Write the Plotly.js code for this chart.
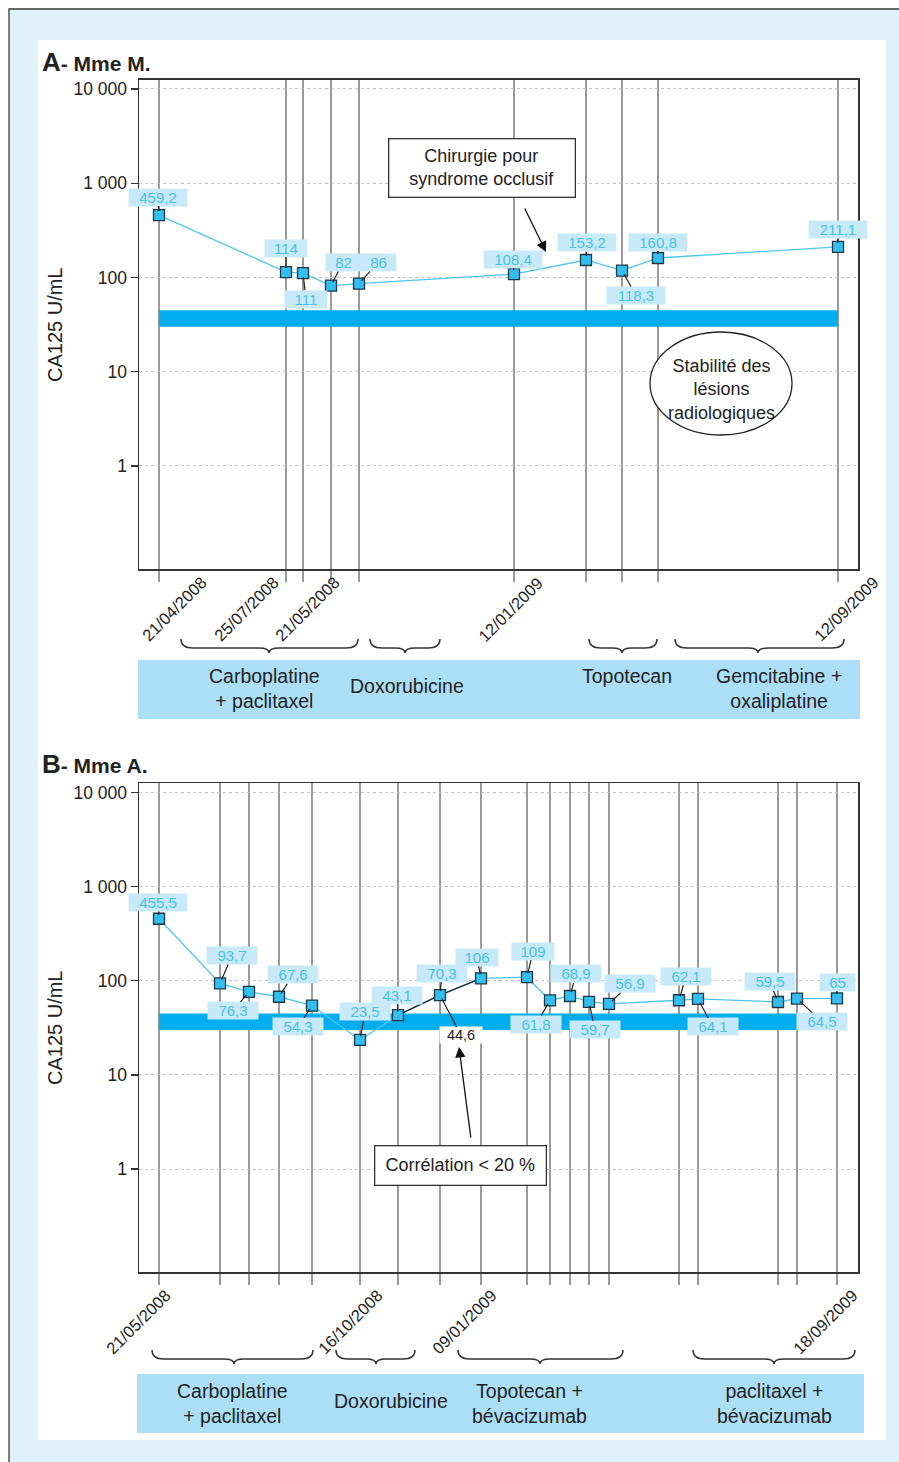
<!DOCTYPE html>
<html>
<head>
<meta charset="utf-8">
<script src="https://cdn.plot.ly/plotly-3.0.1.min.js"></script>
<style>
html,body{margin:0;padding:0;background:#fff;}
#chart{width:899px;height:1462px;}
</style>
</head>
<body>
<div id="chart"></div>
<script>
// ---------- DATA ----------
// Panel A - Mme M.
const xA = [20, 147, 164, 192, 220, 375, 447, 483, 519, 699];
const ca125A = [459.2, 114, 111, 82, 86, 108.4, 153.2, 118.3, 160.8, 211.1];
const datesA = ["21/04/2008", "25/07/2008", "21/05/2008", "12/01/2009", "12/09/2009"];
const treatmentsA = ["Carboplatine<br>+ paclitaxel", "Doxorubicine", "Topotecan", "Gemcitabine +<br>oxaliplatine"];

// Panel B - Mme A.
const xB = [20, 81, 110, 140, 173, 221, 259, 301, 342, 388, 411, 431, 450, 470, 540, 559, 639, 658, 698];
const ca125B = [455.5, 93.7, 76.3, 67.6, 54.3, 23.5, 43.1, 70.3, 106, 109, 61.8, 68.9, 59.7, 56.9, 62.1, 64.1, 59.5, 64.5, 65];
const datesB = ["21/05/2008", "16/10/2008", "09/01/2009", "18/09/2009"];
const treatmentsB = ["Carboplatine<br>+ paclitaxel", "Doxorubicine", "Topotecan +<br>bévacizumab", "paclitaxel +<br>bévacizumab"];
const correlatedIndexB = 7;
const correlatedValueB = 44.6;
const blackSegmentB = [6, 8];

// Normal range band (U/mL)
const bandLow = 30, bandHigh = 45;

const yTickVals = [1, 10, 100, 1000, 10000];
const yTickText = ["1", "10", "100", "1 000", "10 000"];

// ---------- LAYOUT HELPERS ----------
const W = 899, H = 1462;
const PX = x => x / W;
const PY = y => 1 - y / H;
const FONT = "Liberation Sans, Arial, Helvetica, sans-serif";
const CYAN_LINE = "#4cc6f0";
const MARK_FILL = "#34bdef";
const LABEL_BG = "#c8e9f8";
const LABEL_TXT = "#45c2ee";
const fmt = v => String(v).replace(".", ",");

// label offsets (pixels) from the marker
const offA = [[-1,-18],[0,-24],[3,26],[12,-23],[19,-21],[-1,-15],[1,-17],[14,25],[0,-16],[0,-17]];
const offB = [[-1,-16],[12,-28],[-16,19],[14,-22],[-14,21],[5,-28],[-1,-20],[2,-22],[-4,-21],[6,-26],[-14,24],[6,-22],[6,28],[21,-20],[7,-24],[15,28],[-8,-20],[25,23],[0,-16]];

// date label positions (pixel centres)
const datePosA = [[174,609],[246,609],[307,609],[511,609],[846,609]];
const datePosB = [[138,1322],[350,1322],[464,1322],[825,1322]];
const treatPosA = [[264,688],[407,686],[627,676],[779,688]];
const treatPosB = [[232,1403],[391,1401],[529,1403],[774,1403]];
const bracesA = [[181,358,269],[370,440,405],[589,657,622],[675,844,758]];
const bracesB = [[152,313,234],[336,415,376],[458,623,540],[693,855,774]];

function brace(x0, x1, mid, y0) {
  const d = 9, t = 14;
  const p = (x, y) => PX(x).toFixed(5) + "," + PY(y).toFixed(5);
  return "M" + p(x0, y0) + " Q" + p(x0, y0 + d) + " " + p(x0 + 12, y0 + d) +
    " L" + p(mid - 10, y0 + d) + " Q" + p(mid, y0 + d) + " " + p(mid, y0 + t) +
    " Q" + p(mid, y0 + d) + " " + p(mid + 10, y0 + d) +
    " L" + p(x1 - 12, y0 + d) + " Q" + p(x1, y0 + d) + " " + p(x1, y0);
}

// ---------- TRACES ----------
const markerStyle = {symbol: "square", size: 11, color: MARK_FILL, line: {color: "#1b3a47", width: 1.3}};
const traces = [
  {x: xA, y: ca125A, xaxis: "x", yaxis: "y", mode: "lines", line: {color: CYAN_LINE, width: 1.3}, hoverinfo: "skip"},
  {x: xA, y: ca125A, xaxis: "x", yaxis: "y", mode: "markers", marker: markerStyle, hoverinfo: "skip"},
  {x: xB, y: ca125B, xaxis: "x2", yaxis: "y2", mode: "lines", line: {color: CYAN_LINE, width: 1.3}, hoverinfo: "skip"},
  {x: xB.slice(blackSegmentB[0], blackSegmentB[1] + 1), y: ca125B.slice(blackSegmentB[0], blackSegmentB[1] + 1),
   xaxis: "x2", yaxis: "y2", mode: "lines", line: {color: "#1e2a30", width: 1.3}, hoverinfo: "skip"},
  {x: xB, y: ca125B, xaxis: "x2", yaxis: "y2", mode: "markers", marker: markerStyle, hoverinfo: "skip"}
];

// ---------- AXES ----------
function xAxis(domain, vals, anchor) {
  return {domain: domain, range: [0, 719], anchor: anchor, tickvals: vals, ticktext: vals.map(() => ""),
    showticklabels: false, ticks: "outside", ticklen: 11, tickcolor: "#999", tickwidth: 1.2,
    showgrid: true, gridcolor: "#9a9a9a", gridwidth: 1.2, zeroline: false,
    showline: true, mirror: true, linecolor: "#333", linewidth: 1.5, fixedrange: true};
}
function yAxis(domain, anchor) {
  return {domain: domain, type: "log", range: [-1.093, 4.1], anchor: anchor,
    tickvals: yTickVals, ticktext: yTickText, ticks: "outside", ticklen: 7, tickcolor: "#333", tickwidth: 1.2,
    tickfont: {family: FONT, size: 17.5, color: "#222"},
    showgrid: true, gridcolor: "#c4c4c4", griddash: "dot", gridwidth: 1, zeroline: false,
    showline: true, mirror: true, linecolor: "#333", linewidth: 1.5, fixedrange: true};
}

// ---------- SHAPES ----------
const shapes = [
  {type: "rect", xref: "paper", yref: "paper", x0: PX(9), x1: PX(910), y0: PY(9), y1: PY(1480),
   fillcolor: "#dff1f9", line: {color: "#3a3a3a", width: 1.3}, layer: "below"},
  {type: "rect", xref: "paper", yref: "paper", x0: PX(38), x1: PX(886), y0: PY(40), y1: PY(1440),
   fillcolor: "#ffffff", line: {width: 0}, layer: "below"},
  {type: "rect", xref: "x", yref: "y", x0: xA[0], x1: xA[xA.length - 1], y0: bandLow, y1: bandHigh,
   fillcolor: "#00aeef", line: {width: 0}, layer: "between"},
  {type: "rect", xref: "x2", yref: "y2", x0: xB[0], x1: xB[xB.length - 1], y0: bandLow, y1: bandHigh,
   fillcolor: "#00aeef", line: {width: 0}, layer: "between"},
  {type: "rect", xref: "paper", yref: "paper", x0: PX(138), x1: PX(860), y0: PY(719), y1: PY(660),
   fillcolor: "#abdff7", line: {width: 0}},
  {type: "rect", xref: "paper", yref: "paper", x0: PX(137), x1: PX(864), y0: PY(1433), y1: PY(1374),
   fillcolor: "#abdff7", line: {width: 0}},
  {type: "circle", xref: "paper", yref: "paper", x0: PX(650), x1: PX(792), y0: PY(435), y1: PY(332),
   fillcolor: "#ffffff", line: {color: "#222", width: 1.3}}
];
bracesA.forEach(b => shapes.push({type: "path", xref: "paper", yref: "paper", path: brace(b[0], b[1], b[2], 639), line: {color: "#333", width: 1.5}}));
bracesB.forEach(b => shapes.push({type: "path", xref: "paper", yref: "paper", path: brace(b[0], b[1], b[2], 1350), line: {color: "#333", width: 1.5}}));

// ---------- ANNOTATIONS ----------
const annotations = [];
function valueLabels(xs, vs, offs, xr, yr) {
  vs.forEach((v, i) => {
    const t = fmt(v);
    annotations.push({x: xs[i], y: Math.log10(v), xref: xr, yref: yr, text: t,
      showarrow: true, arrowhead: 0, arrowwidth: 1.2, arrowcolor: "#222", standoff: 4,
      ax: offs[i][0], ay: offs[i][1], bgcolor: LABEL_BG, borderpad: 0,
      width: Math.round(t.length * 7.8 + 19), height: 17,
      font: {family: FONT, size: 15, color: LABEL_TXT}});
  });
}
valueLabels(xA, ca125A, offA, "x", "y");
valueLabels(xB, ca125B, offB, "x2", "y2");
annotations.push({x: xB[correlatedIndexB], y: Math.log10(ca125B[correlatedIndexB]), xref: "x2", yref: "y2",
  text: fmt(correlatedValueB), showarrow: true, arrowhead: 0, arrowwidth: 1.2, arrowcolor: "#222", standoff: 4,
  ax: 21, ay: 40, bgcolor: "#ffffff", borderpad: 0, width: 42, height: 16,
  font: {family: FONT, size: 14.5, color: "#222"}});

function paperText(text, x, y, size, extra) {
  annotations.push(Object.assign({x: PX(x), y: PY(y), xref: "paper", yref: "paper", text: text, showarrow: false,
    xanchor: "center", yanchor: "middle", font: {family: FONT, size: size, color: "#222"}}, extra || {}));
}
// titles
paperText("<b><span style='font-size:26px'>A</span>- Mme M.</b>", 40, 62, 21, {xanchor: "left"});
paperText("<b><span style='font-size:26px'>B</span>- Mme A.</b>", 40, 764, 21, {xanchor: "left"});
// y titles
paperText("CA125 U/mL", 55, 325, 20, {textangle: -90});
paperText("CA125 U/mL", 55, 1028, 20, {textangle: -90});
// dates
datesA.forEach((d, i) => paperText(d, datePosA[i][0], datePosA[i][1], 16.5, {textangle: -45}));
datesB.forEach((d, i) => paperText(d, datePosB[i][0], datePosB[i][1], 16.5, {textangle: -45}));
// treatments
treatmentsA.forEach((t, i) => paperText(t, treatPosA[i][0], treatPosA[i][1], 19.5));
treatmentsB.forEach((t, i) => paperText(t, treatPosB[i][0], treatPosB[i][1], 19.5));
// boxes
paperText("Chirurgie pour<br>syndrome occlusif", 482, 168, 18,
  {bgcolor: "#fff", bordercolor: "#333", borderwidth: 1.3, width: 183, height: 55});
annotations.push({x: PX(546), y: PY(252), xref: "paper", yref: "paper", text: "", showarrow: true,
  ax: -22, ay: -45, arrowhead: 2, arrowsize: 1.6, arrowwidth: 1.3, arrowcolor: "#111", standoff: 0});
paperText("Stabilité des<br>lésions<br>radiologiques", 721, 389, 18);
paperText("Corrélation < 20 %", 460, 1165, 18,
  {bgcolor: "#fff", bordercolor: "#333", borderwidth: 1.3, width: 168, height: 36});
annotations.push({x: PX(459), y: PY(1047), xref: "paper", yref: "paper", text: "", showarrow: true,
  ax: 12, ay: 92, arrowhead: 2, arrowsize: 1.6, arrowwidth: 1.3, arrowcolor: "#111", standoff: 0});

const layout = {
  width: W, height: H, margin: {l: 0, r: 0, t: 0, b: 0},
  paper_bgcolor: "#ffffff", plot_bgcolor: "rgba(0,0,0,0)",
  showlegend: false, font: {family: FONT},
  xaxis: xAxis([PX(139), PX(858)], xA, "y"),
  yaxis: yAxis([PY(569), PY(79.5)], "x"),
  xaxis2: xAxis([PX(139), PX(858)], xB, "y2"),
  yaxis2: yAxis([PY(1272), PY(783)], "x2"),
  shapes: shapes,
  annotations: annotations
};

Plotly.newPlot("chart", traces, layout, {staticPlot: true, displayModeBar: false});
</script>
</body>
</html>
